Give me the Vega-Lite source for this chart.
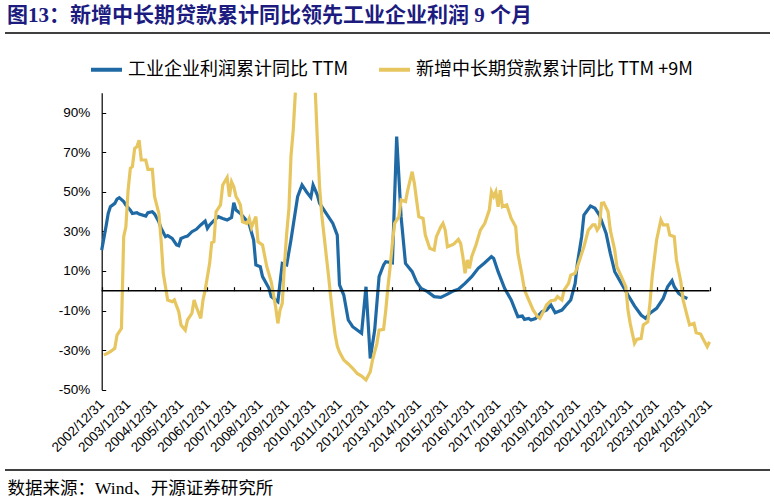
{
"$schema": "https://vega.github.io/schema/vega-lite/v6.json",
"width": 765,
"height": 437,
"autosize": {"type": "none"},
"padding": {"left": 5, "top": 33, "right": 4, "bottom": 31},
"title": {"text": "图13：新增中长期贷款累计同比领先工业企业利润 9 个月", "anchor": "start", "frame": "group", "font": "Liberation Serif, Noto Sans CJK SC", "fontSize": 21, "fontWeight": "bold", "color": "#1c1c80", "offset": 6, "dx": 2},
"config": {"view": {"stroke": null}, "font": "Liberation Sans", "axis": {"labelColor": "#000", "domainColor": "#000", "tickColor": "#000", "grid": false}},
"layer": [
 {
  "layer": [
   {
    "data": {"values": [
{"date":"2002-12-31","series":"工业企业利润累计同比 TTM","value":20.5},
{"date":"2003-02-28","series":"工业企业利润累计同比 TTM","value":32.3},
{"date":"2003-03-31","series":"工业企业利润累计同比 TTM","value":39},
{"date":"2003-04-30","series":"工业企业利润累计同比 TTM","value":42.4},
{"date":"2003-06-30","series":"工业企业利润累计同比 TTM","value":44.1},
{"date":"2003-07-31","series":"工业企业利润累计同比 TTM","value":46.3},
{"date":"2003-08-31","series":"工业企业利润累计同比 TTM","value":47},
{"date":"2003-10-31","series":"工业企业利润累计同比 TTM","value":45},
{"date":"2003-11-30","series":"工业企业利润累计同比 TTM","value":43.3},
{"date":"2004-01-31","series":"工业企业利润累计同比 TTM","value":40.7},
{"date":"2004-02-28","series":"工业企业利润累计同比 TTM","value":39},
{"date":"2004-04-30","series":"工业企业利润累计同比 TTM","value":39.4},
{"date":"2004-05-31","series":"工业企业利润累计同比 TTM","value":38.7},
{"date":"2004-08-31","series":"工业企业利润累计同比 TTM","value":37.7},
{"date":"2004-09-30","series":"工业企业利润累计同比 TTM","value":39.4},
{"date":"2004-11-30","series":"工业企业利润累计同比 TTM","value":39.9},
{"date":"2004-12-31","series":"工业企业利润累计同比 TTM","value":38.7},
{"date":"2005-02-28","series":"工业企业利润累计同比 TTM","value":34.8},
{"date":"2005-03-31","series":"工业企业利润累计同比 TTM","value":31.5},
{"date":"2005-05-31","series":"工业企业利润累计同比 TTM","value":27.3},
{"date":"2005-06-30","series":"工业企业利润累计同比 TTM","value":27.8},
{"date":"2005-08-31","series":"工业企业利润累计同比 TTM","value":26.4},
{"date":"2005-10-31","series":"工业企业利润累计同比 TTM","value":23.1},
{"date":"2005-11-30","series":"工业企业利润累计同比 TTM","value":22.7},
{"date":"2005-12-31","series":"工业企业利润累计同比 TTM","value":26.4},
{"date":"2006-02-28","series":"工业企业利润累计同比 TTM","value":27.3},
{"date":"2006-03-31","series":"工业企业利润累计同比 TTM","value":27.6},
{"date":"2006-05-31","series":"工业企业利润累计同比 TTM","value":29.8},
{"date":"2006-07-31","series":"工业企业利润累计同比 TTM","value":31},
{"date":"2006-09-30","series":"工业企业利润累计同比 TTM","value":33.2},
{"date":"2006-11-30","series":"工业企业利润累计同比 TTM","value":35.2},
{"date":"2006-12-31","series":"工业企业利润累计同比 TTM","value":31.5},
{"date":"2007-01-31","series":"工业企业利润累计同比 TTM","value":33.2},
{"date":"2007-03-31","series":"工业企业利润累计同比 TTM","value":35.4},
{"date":"2007-05-31","series":"工业企业利润累计同比 TTM","value":37.4},
{"date":"2007-07-31","series":"工业企业利润累计同比 TTM","value":36.5},
{"date":"2007-09-30","series":"工业企业利润累计同比 TTM","value":35.7},
{"date":"2007-11-30","series":"工业企业利润累计同比 TTM","value":37},
{"date":"2007-12-31","series":"工业企业利润累计同比 TTM","value":44.4},
{"date":"2008-01-31","series":"工业企业利润累计同比 TTM","value":40.7},
{"date":"2008-03-31","series":"工业企业利润累计同比 TTM","value":39},
{"date":"2008-05-31","series":"工业企业利润累计同比 TTM","value":36.5},
{"date":"2008-07-31","series":"工业企业利润累计同比 TTM","value":33.5},
{"date":"2008-09-30","series":"工业企业利润累计同比 TTM","value":25.6},
{"date":"2008-10-31","series":"工业企业利润累计同比 TTM","value":13},
{"date":"2008-12-31","series":"工业企业利润累计同比 TTM","value":12.1},
{"date":"2009-01-31","series":"工业企业利润累计同比 TTM","value":7.1},
{"date":"2009-04-30","series":"工业企业利润累计同比 TTM","value":1.2},
{"date":"2009-05-31","series":"工业企业利润累计同比 TTM","value":-3},
{"date":"2009-07-31","series":"工业企业利润累计同比 TTM","value":-4.7},
{"date":"2009-08-31","series":"工业企业利润累计同比 TTM","value":-5.6},
{"date":"2009-10-31","series":"工业企业利润累计同比 TTM","value":13.8},
{"date":"2009-12-31","series":"工业企业利润累计同比 TTM","value":13},
{"date":"2010-02-28","series":"工业企业利润累计同比 TTM","value":25.6},
{"date":"2010-05-31","series":"工业企业利润累计同比 TTM","value":47.5},
{"date":"2010-07-31","series":"工业企业利润累计同比 TTM","value":53.4},
{"date":"2010-09-30","series":"工业企业利润累计同比 TTM","value":50},
{"date":"2010-11-30","series":"工业企业利润累计同比 TTM","value":47.1},
{"date":"2010-12-31","series":"工业企业利润累计同比 TTM","value":53.4},
{"date":"2011-02-28","series":"工业企业利润累计同比 TTM","value":48.3},
{"date":"2011-03-31","series":"工业企业利润累计同比 TTM","value":44.1},
{"date":"2011-06-30","series":"工业企业利润累计同比 TTM","value":39},
{"date":"2011-09-30","series":"工业企业利润累计同比 TTM","value":34},
{"date":"2011-11-30","series":"工业企业利润累计同比 TTM","value":28.1},
{"date":"2011-12-31","series":"工业企业利润累计同比 TTM","value":2.9},
{"date":"2012-02-28","series":"工业企业利润累计同比 TTM","value":-2.2},
{"date":"2012-04-30","series":"工业企业利润累计同比 TTM","value":-14.8},
{"date":"2012-06-30","series":"工业企业利润累计同比 TTM","value":-18.2},
{"date":"2012-10-31","series":"工业企业利润累计同比 TTM","value":-21.5},
{"date":"2012-12-31","series":"工业企业利润累计同比 TTM","value":2},
{"date":"2013-02-28","series":"工业企业利润累计同比 TTM","value":-34.2},
{"date":"2013-04-30","series":"工业企业利润累计同比 TTM","value":-19.9},
{"date":"2013-06-30","series":"工业企业利润累计同比 TTM","value":7.1},
{"date":"2013-08-31","series":"工业企业利润累计同比 TTM","value":13},
{"date":"2013-09-30","series":"工业企业利润累计同比 TTM","value":14.6},
{"date":"2013-12-31","series":"工业企业利润累计同比 TTM","value":14.1},
{"date":"2014-02-28","series":"工业企业利润累计同比 TTM","value":77.8},
{"date":"2014-04-30","series":"工业企业利润累计同比 TTM","value":37.4},
{"date":"2014-06-30","series":"工业企业利润累计同比 TTM","value":13.8},
{"date":"2014-09-30","series":"工业企业利润累计同比 TTM","value":9.6},
{"date":"2014-11-30","series":"工业企业利润累计同比 TTM","value":4.5},
{"date":"2015-01-31","series":"工业企业利润累计同比 TTM","value":1.2},
{"date":"2015-04-30","series":"工业企业利润累计同比 TTM","value":-0.5},
{"date":"2015-07-31","series":"工业企业利润累计同比 TTM","value":-3},
{"date":"2015-10-31","series":"工业企业利润累计同比 TTM","value":-3.4},
{"date":"2016-01-31","series":"工业企业利润累计同比 TTM","value":-1.7},
{"date":"2016-04-30","series":"工业企业利润累计同比 TTM","value":0},
{"date":"2016-06-30","series":"工业企业利润累计同比 TTM","value":0.7},
{"date":"2016-09-30","series":"工业企业利润累计同比 TTM","value":3.7},
{"date":"2016-12-31","series":"工业企业利润累计同比 TTM","value":7.1},
{"date":"2017-03-31","series":"工业企业利润累计同比 TTM","value":11.3},
{"date":"2017-06-30","series":"工业企业利润累计同比 TTM","value":14.1},
{"date":"2017-09-30","series":"工业企业利润累计同比 TTM","value":17.2},
{"date":"2017-10-31","series":"工业企业利润累计同比 TTM","value":16.3},
{"date":"2017-12-31","series":"工业企业利润累计同比 TTM","value":9.6},
{"date":"2018-03-31","series":"工业企业利润累计同比 TTM","value":1.2},
{"date":"2018-06-30","series":"工业企业利润累计同比 TTM","value":-4.7},
{"date":"2018-09-30","series":"工业企业利润累计同比 TTM","value":-13.1},
{"date":"2018-11-30","series":"工业企业利润累计同比 TTM","value":-12.8},
{"date":"2018-12-31","series":"工业企业利润累计同比 TTM","value":-14.5},
{"date":"2019-02-28","series":"工业企业利润累计同比 TTM","value":-14},
{"date":"2019-03-31","series":"工业企业利润累计同比 TTM","value":-14.8},
{"date":"2019-05-31","series":"工业企业利润累计同比 TTM","value":-14.1},
{"date":"2019-08-31","series":"工业企业利润累计同比 TTM","value":-10.6},
{"date":"2019-10-31","series":"工业企业利润累计同比 TTM","value":-9.8},
{"date":"2019-12-31","series":"工业企业利润累计同比 TTM","value":-7.2},
{"date":"2020-02-28","series":"工业企业利润累计同比 TTM","value":-11.1},
{"date":"2020-05-31","series":"工业企业利润累计同比 TTM","value":-9.8},
{"date":"2020-07-31","series":"工业企业利润累计同比 TTM","value":-7.2},
{"date":"2020-09-30","series":"工业企业利润累计同比 TTM","value":-4.7},
{"date":"2020-11-30","series":"工业企业利润累计同比 TTM","value":3.7},
{"date":"2020-12-31","series":"工业企业利润累计同比 TTM","value":13.8},
{"date":"2021-02-28","series":"工业企业利润累计同比 TTM","value":27.3},
{"date":"2021-03-31","series":"工业企业利润累计同比 TTM","value":38.2},
{"date":"2021-06-30","series":"工业企业利润累计同比 TTM","value":42.8},
{"date":"2021-08-31","series":"工业企业利润累计同比 TTM","value":41.6},
{"date":"2021-10-31","series":"工业企业利润累计同比 TTM","value":38.2},
{"date":"2022-01-31","series":"工业企业利润累计同比 TTM","value":29},
{"date":"2022-03-31","series":"工业企业利润累计同比 TTM","value":18.9},
{"date":"2022-05-31","series":"工业企业利润累计同比 TTM","value":9.6},
{"date":"2022-08-31","series":"工业企业利润累计同比 TTM","value":3.7},
{"date":"2022-11-30","series":"工业企业利润累计同比 TTM","value":-2.2},
{"date":"2023-02-28","series":"工业企业利润累计同比 TTM","value":-7.7},
{"date":"2023-05-31","series":"工业企业利润累计同比 TTM","value":-12.3},
{"date":"2023-07-31","series":"工业企业利润累计同比 TTM","value":-14},
{"date":"2023-09-30","series":"工业企业利润累计同比 TTM","value":-11.4},
{"date":"2023-12-31","series":"工业企业利润累计同比 TTM","value":-8.9},
{"date":"2024-03-31","series":"工业企业利润累计同比 TTM","value":-3.9},
{"date":"2024-05-31","series":"工业企业利润累计同比 TTM","value":2},
{"date":"2024-07-31","series":"工业企业利润累计同比 TTM","value":5.1},
{"date":"2024-08-31","series":"工业企业利润累计同比 TTM","value":2},
{"date":"2024-10-31","series":"工业企业利润累计同比 TTM","value":-1.3},
{"date":"2024-12-31","series":"工业企业利润累计同比 TTM","value":-3},
{"date":"2025-02-28","series":"工业企业利润累计同比 TTM","value":-3.9},
{"date":"2003-01-31","series":"新增中长期贷款累计同比 TTM +9M","value":-32.5},
{"date":"2003-04-30","series":"新增中长期贷款累计同比 TTM +9M","value":-30.8},
{"date":"2003-06-30","series":"新增中长期贷款累计同比 TTM +9M","value":-29.1},
{"date":"2003-07-31","series":"新增中长期贷款累计同比 TTM +9M","value":-22.4},
{"date":"2003-09-30","series":"新增中长期贷款累计同比 TTM +9M","value":-19},
{"date":"2003-10-31","series":"新增中长期贷款累计同比 TTM +9M","value":27.3},
{"date":"2003-11-30","series":"新增中长期贷款累计同比 TTM +9M","value":32.3},
{"date":"2003-12-31","series":"新增中长期贷款累计同比 TTM +9M","value":50.8},
{"date":"2004-01-31","series":"新增中长期贷款累计同比 TTM +9M","value":61.8},
{"date":"2004-02-28","series":"新增中长期贷款累计同比 TTM +9M","value":62.6},
{"date":"2004-03-31","series":"新增中长期贷款累计同比 TTM +9M","value":71.9},
{"date":"2004-04-30","series":"新增中长期贷款累计同比 TTM +9M","value":72.7},
{"date":"2004-05-31","series":"新增中长期贷款累计同比 TTM +9M","value":76},
{"date":"2004-06-30","series":"新增中长期贷款累计同比 TTM +9M","value":66},
{"date":"2004-08-31","series":"新增中长期贷款累计同比 TTM +9M","value":66},
{"date":"2004-09-30","series":"新增中长期贷款累计同比 TTM +9M","value":61.3},
{"date":"2004-11-30","series":"新增中长期贷款累计同比 TTM +9M","value":61.3},
{"date":"2004-12-31","series":"新增中长期贷款累计同比 TTM +9M","value":47.5},
{"date":"2005-02-28","series":"新增中长期贷款累计同比 TTM +9M","value":39},
{"date":"2005-03-31","series":"新增中长期贷款累计同比 TTM +9M","value":25.6},
{"date":"2005-04-30","series":"新增中长期贷款累计同比 TTM +9M","value":8.8},
{"date":"2005-06-30","series":"新增中长期贷款累计同比 TTM +9M","value":-4.7},
{"date":"2005-08-31","series":"新增中长期贷款累计同比 TTM +9M","value":-5.6},
{"date":"2005-09-30","series":"新增中长期贷款累计同比 TTM +9M","value":-4.7},
{"date":"2005-11-30","series":"新增中长期贷款累计同比 TTM +9M","value":-10.6},
{"date":"2005-12-31","series":"新增中长期贷款累计同比 TTM +9M","value":-17.3},
{"date":"2006-02-28","series":"新增中长期贷款累计同比 TTM +9M","value":-19.9},
{"date":"2006-03-31","series":"新增中长期贷款累计同比 TTM +9M","value":-14.8},
{"date":"2006-05-31","series":"新增中长期贷款累计同比 TTM +9M","value":-11.4},
{"date":"2006-06-30","series":"新增中长期贷款累计同比 TTM +9M","value":-4.7},
{"date":"2006-07-31","series":"新增中长期贷款累计同比 TTM +9M","value":-8.1},
{"date":"2006-09-30","series":"新增中长期贷款累计同比 TTM +9M","value":-14},
{"date":"2006-10-31","series":"新增中长期贷款累计同比 TTM +9M","value":-4.7},
{"date":"2006-11-30","series":"新增中长期贷款累计同比 TTM +9M","value":0.3},
{"date":"2007-01-31","series":"新增中长期贷款累计同比 TTM +9M","value":13.8},
{"date":"2007-02-28","series":"新增中长期贷款累计同比 TTM +9M","value":24.2},
{"date":"2007-03-31","series":"新增中长期贷款累计同比 TTM +9M","value":24.7},
{"date":"2007-04-30","series":"新增中长期贷款累计同比 TTM +9M","value":39.9},
{"date":"2007-06-30","series":"新增中长期贷款累计同比 TTM +9M","value":43.3},
{"date":"2007-07-31","series":"新增中长期贷款累计同比 TTM +9M","value":53.4},
{"date":"2007-09-30","series":"新增中长期贷款累计同比 TTM +9M","value":57.2},
{"date":"2007-10-31","series":"新增中长期贷款累计同比 TTM +9M","value":47.5},
{"date":"2007-11-30","series":"新增中长期贷款累计同比 TTM +9M","value":55},
{"date":"2007-12-31","series":"新增中长期贷款累计同比 TTM +9M","value":52.5},
{"date":"2008-01-31","series":"新增中长期贷款累计同比 TTM +9M","value":47.5},
{"date":"2008-02-28","series":"新增中长期贷款累计同比 TTM +9M","value":45.8},
{"date":"2008-03-31","series":"新增中长期贷款累计同比 TTM +9M","value":43.3},
{"date":"2008-04-30","series":"新增中长期贷款累计同比 TTM +9M","value":34.8},
{"date":"2008-06-30","series":"新增中长期贷款累计同比 TTM +9M","value":34},
{"date":"2008-07-31","series":"新增中长期贷款累计同比 TTM +9M","value":36.5},
{"date":"2008-08-31","series":"新增中长期贷款累计同比 TTM +9M","value":32},
{"date":"2008-10-31","series":"新增中长期贷款累计同比 TTM +9M","value":37.4},
{"date":"2008-11-30","series":"新增中长期贷款累计同比 TTM +9M","value":24.7},
{"date":"2009-01-31","series":"新增中长期贷款累计同比 TTM +9M","value":23.1},
{"date":"2009-03-31","series":"新增中长期贷款累计同比 TTM +9M","value":12.1},
{"date":"2009-05-31","series":"新增中长期贷款累计同比 TTM +9M","value":4.5},
{"date":"2009-07-31","series":"新增中长期贷款累计同比 TTM +9M","value":-8.1},
{"date":"2009-08-31","series":"新增中长期贷款累计同比 TTM +9M","value":-16.5},
{"date":"2009-09-30","series":"新增中长期贷款累计同比 TTM +9M","value":-9.8},
{"date":"2009-10-31","series":"新增中长期贷款累计同比 TTM +9M","value":-6.4},
{"date":"2009-11-30","series":"新增中长期贷款累计同比 TTM +9M","value":13},
{"date":"2009-12-31","series":"新增中长期贷款累计同比 TTM +9M","value":29},
{"date":"2010-01-31","series":"新增中长期贷款累计同比 TTM +9M","value":41.6},
{"date":"2010-02-28","series":"新增中长期贷款累计同比 TTM +9M","value":67.7},
{"date":"2010-03-31","series":"新增中长期贷款累计同比 TTM +9M","value":81},
{"date":"2010-04-30","series":"新增中长期贷款累计同比 TTM +9M","value":100},
{"date":"2010-08-31","series":"新增中长期贷款累计同比 TTM +9M","value":null},
{"date":"2011-01-31","series":"新增中长期贷款累计同比 TTM +9M","value":100},
{"date":"2011-02-28","series":"新增中长期贷款累计同比 TTM +9M","value":76},
{"date":"2011-03-31","series":"新增中长期贷款累计同比 TTM +9M","value":52},
{"date":"2011-04-30","series":"新增中长期贷款累计同比 TTM +9M","value":38},
{"date":"2011-05-31","series":"新增中长期贷款累计同比 TTM +9M","value":28},
{"date":"2011-06-30","series":"新增中长期贷款累计同比 TTM +9M","value":18},
{"date":"2011-07-31","series":"新增中长期贷款累计同比 TTM +9M","value":8},
{"date":"2011-08-31","series":"新增中长期贷款累计同比 TTM +9M","value":-3},
{"date":"2011-09-30","series":"新增中长期贷款累计同比 TTM +9M","value":-13},
{"date":"2011-10-31","series":"新增中长期贷款累计同比 TTM +9M","value":-22},
{"date":"2011-11-30","series":"新增中长期贷款累计同比 TTM +9M","value":-28},
{"date":"2011-12-31","series":"新增中长期贷款累计同比 TTM +9M","value":-31},
{"date":"2012-02-28","series":"新增中长期贷款累计同比 TTM +9M","value":-35},
{"date":"2012-04-30","series":"新增中长期贷款累计同比 TTM +9M","value":-37},
{"date":"2012-06-30","series":"新增中长期贷款累计同比 TTM +9M","value":-39.2},
{"date":"2012-08-31","series":"新增中长期贷款累计同比 TTM +9M","value":-41.8},
{"date":"2012-10-31","series":"新增中长期贷款累计同比 TTM +9M","value":-43.1},
{"date":"2012-12-31","series":"新增中长期贷款累计同比 TTM +9M","value":-45.1},
{"date":"2013-02-28","series":"新增中长期贷款累计同比 TTM +9M","value":-40.9},
{"date":"2013-03-31","series":"新增中长期贷款累计同比 TTM +9M","value":-35},
{"date":"2013-05-31","series":"新增中长期贷款累计同比 TTM +9M","value":-26.6},
{"date":"2013-06-30","series":"新增中长期贷款累计同比 TTM +9M","value":-19.9},
{"date":"2013-08-31","series":"新增中长期贷款累计同比 TTM +9M","value":-19.5},
{"date":"2013-09-30","series":"新增中长期贷款累计同比 TTM +9M","value":-10},
{"date":"2013-10-31","series":"新增中长期贷款累计同比 TTM +9M","value":2},
{"date":"2013-11-30","series":"新增中长期贷款累计同比 TTM +9M","value":12},
{"date":"2013-12-31","series":"新增中长期贷款累计同比 TTM +9M","value":24},
{"date":"2014-01-31","series":"新增中长期贷款累计同比 TTM +9M","value":34},
{"date":"2014-03-31","series":"新增中长期贷款累计同比 TTM +9M","value":37.4},
{"date":"2014-04-30","series":"新增中长期贷款累计同比 TTM +9M","value":45.8},
{"date":"2014-06-30","series":"新增中长期贷款累计同比 TTM +9M","value":45},
{"date":"2014-07-31","series":"新增中长期贷款累计同比 TTM +9M","value":50.8},
{"date":"2014-09-30","series":"新增中长期贷款累计同比 TTM +9M","value":60.1},
{"date":"2014-10-31","series":"新增中长期贷款累计同比 TTM +9M","value":54.2},
{"date":"2014-11-30","series":"新增中长期贷款累计同比 TTM +9M","value":45.8},
{"date":"2014-12-31","series":"新增中长期贷款累计同比 TTM +9M","value":37.4},
{"date":"2015-02-28","series":"新增中长期贷款累计同比 TTM +9M","value":36.5},
{"date":"2015-03-31","series":"新增中长期贷款累计同比 TTM +9M","value":28.1},
{"date":"2015-05-31","series":"新增中长期贷款累计同比 TTM +9M","value":21.4},
{"date":"2015-07-31","series":"新增中长期贷款累计同比 TTM +9M","value":20.5},
{"date":"2015-08-31","series":"新增中长期贷款累计同比 TTM +9M","value":27.3},
{"date":"2015-10-31","series":"新增中长期贷款累计同比 TTM +9M","value":32.3},
{"date":"2015-11-30","series":"新增中长期贷款累计同比 TTM +9M","value":34},
{"date":"2015-12-31","series":"新增中长期贷款累计同比 TTM +9M","value":30.6},
{"date":"2016-01-31","series":"新增中长期贷款累计同比 TTM +9M","value":22.2},
{"date":"2016-03-31","series":"新增中长期贷款累计同比 TTM +9M","value":23.1},
{"date":"2016-04-30","series":"新增中长期贷款累计同比 TTM +9M","value":23.6},
{"date":"2016-06-30","series":"新增中长期贷款累计同比 TTM +9M","value":25.9},
{"date":"2016-07-31","series":"新增中长期贷款累计同比 TTM +9M","value":23.9},
{"date":"2016-08-31","series":"新增中长期贷款累计同比 TTM +9M","value":17.2},
{"date":"2016-09-30","series":"新增中长期贷款累计同比 TTM +9M","value":8.8},
{"date":"2016-10-31","series":"新增中长期贷款累计同比 TTM +9M","value":15.5},
{"date":"2016-11-30","series":"新增中长期贷款累计同比 TTM +9M","value":11.3},
{"date":"2016-12-31","series":"新增中长期贷款累计同比 TTM +9M","value":17.2},
{"date":"2017-02-28","series":"新增中长期贷款累计同比 TTM +9M","value":23.1},
{"date":"2017-04-30","series":"新增中长期贷款累计同比 TTM +9M","value":30.6},
{"date":"2017-06-30","series":"新增中长期贷款累计同比 TTM +9M","value":34},
{"date":"2017-08-31","series":"新增中长期贷款累计同比 TTM +9M","value":40.7},
{"date":"2017-09-30","series":"新增中长期贷款累计同比 TTM +9M","value":50},
{"date":"2017-10-31","series":"新增中长期贷款累计同比 TTM +9M","value":47.5},
{"date":"2017-11-30","series":"新增中长期贷款累计同比 TTM +9M","value":50},
{"date":"2017-12-31","series":"新增中长期贷款累计同比 TTM +9M","value":42.4},
{"date":"2018-01-31","series":"新增中长期贷款累计同比 TTM +9M","value":50.8},
{"date":"2018-02-28","series":"新增中长期贷款累计同比 TTM +9M","value":42.4},
{"date":"2018-04-30","series":"新增中长期贷款累计同比 TTM +9M","value":43.3},
{"date":"2018-06-30","series":"新增中长期贷款累计同比 TTM +9M","value":36.5},
{"date":"2018-08-31","series":"新增中长期贷款累计同比 TTM +9M","value":32.3},
{"date":"2018-09-30","series":"新增中长期贷款累计同比 TTM +9M","value":18.9},
{"date":"2018-11-30","series":"新增中长期贷款累计同比 TTM +9M","value":7.1},
{"date":"2018-12-31","series":"新增中长期贷款累计同比 TTM +9M","value":0.3},
{"date":"2019-02-28","series":"新增中长期贷款累计同比 TTM +9M","value":-4.7},
{"date":"2019-04-30","series":"新增中长期贷款累计同比 TTM +9M","value":-9.8},
{"date":"2019-06-30","series":"新增中长期贷款累计同比 TTM +9M","value":-13.1},
{"date":"2019-07-31","series":"新增中长期贷款累计同比 TTM +9M","value":-14},
{"date":"2019-09-30","series":"新增中长期贷款累计同比 TTM +9M","value":-9.8},
{"date":"2019-10-31","series":"新增中长期贷款累计同比 TTM +9M","value":-7.2},
{"date":"2019-12-31","series":"新增中长期贷款累计同比 TTM +9M","value":-5.1},
{"date":"2020-02-28","series":"新增中长期贷款累计同比 TTM +9M","value":-4.7},
{"date":"2020-03-31","series":"新增中长期贷款累计同比 TTM +9M","value":-3},
{"date":"2020-05-31","series":"新增中长期贷款累计同比 TTM +9M","value":-4.7},
{"date":"2020-06-30","series":"新增中长期贷款累计同比 TTM +9M","value":0.3},
{"date":"2020-08-31","series":"新增中长期贷款累计同比 TTM +9M","value":3.7},
{"date":"2020-09-30","series":"新增中长期贷款累计同比 TTM +9M","value":7.9},
{"date":"2020-11-30","series":"新增中长期贷款累计同比 TTM +9M","value":8.8},
{"date":"2021-01-31","series":"新增中长期贷款累计同比 TTM +9M","value":15.5},
{"date":"2021-03-31","series":"新增中长期贷款累计同比 TTM +9M","value":22.2},
{"date":"2021-05-31","series":"新增中长期贷款累计同比 TTM +9M","value":30.6},
{"date":"2021-07-31","series":"新增中长期贷款累计同比 TTM +9M","value":33.2},
{"date":"2021-08-31","series":"新增中长期贷款累计同比 TTM +9M","value":33.2},
{"date":"2021-09-30","series":"新增中长期贷款累计同比 TTM +9M","value":30.6},
{"date":"2021-10-31","series":"新增中长期贷款累计同比 TTM +9M","value":32.3},
{"date":"2021-11-30","series":"新增中长期贷款累计同比 TTM +9M","value":44.1},
{"date":"2021-12-31","series":"新增中长期贷款累计同比 TTM +9M","value":44.4},
{"date":"2022-02-28","series":"新增中长期贷款累计同比 TTM +9M","value":39.9},
{"date":"2022-03-31","series":"新增中长期贷款累计同比 TTM +9M","value":30.6},
{"date":"2022-05-31","series":"新增中长期贷款累计同比 TTM +9M","value":20.5},
{"date":"2022-06-30","series":"新增中长期贷款累计同比 TTM +9M","value":12.1},
{"date":"2022-08-31","series":"新增中长期贷款累计同比 TTM +9M","value":7.1},
{"date":"2022-10-31","series":"新增中长期贷款累计同比 TTM +9M","value":2},
{"date":"2022-11-30","series":"新增中长期贷款累计同比 TTM +9M","value":-9.8},
{"date":"2022-12-31","series":"新增中长期贷款累计同比 TTM +9M","value":-16.5},
{"date":"2023-02-28","series":"新增中长期贷款累计同比 TTM +9M","value":-26.6},
{"date":"2023-03-31","series":"新增中长期贷款累计同比 TTM +9M","value":-24.6},
{"date":"2023-05-31","series":"新增中长期贷款累计同比 TTM +9M","value":-24.1},
{"date":"2023-06-30","series":"新增中长期贷款累计同比 TTM +9M","value":-17.3},
{"date":"2023-08-31","series":"新增中长期贷款累计同比 TTM +9M","value":-15.7},
{"date":"2023-09-30","series":"新增中长期贷款累计同比 TTM +9M","value":-6.4},
{"date":"2023-10-31","series":"新增中长期贷款累计同比 TTM +9M","value":7.1},
{"date":"2023-12-31","series":"新增中长期贷款累计同比 TTM +9M","value":25.6},
{"date":"2024-02-28","series":"新增中长期贷款累计同比 TTM +9M","value":35.7},
{"date":"2024-03-31","series":"新增中长期贷款累计同比 TTM +9M","value":33.2},
{"date":"2024-05-31","series":"新增中长期贷款累计同比 TTM +9M","value":33.2},
{"date":"2024-06-30","series":"新增中长期贷款累计同比 TTM +9M","value":28.1},
{"date":"2024-08-31","series":"新增中长期贷款累计同比 TTM +9M","value":27.3},
{"date":"2024-09-30","series":"新增中长期贷款累计同比 TTM +9M","value":15.5},
{"date":"2024-11-30","series":"新增中长期贷款累计同比 TTM +9M","value":4.5},
{"date":"2024-12-31","series":"新增中长期贷款累计同比 TTM +9M","value":-4.7},
{"date":"2025-02-28","series":"新增中长期贷款累计同比 TTM +9M","value":-13.1},
{"date":"2025-03-31","series":"新增中长期贷款累计同比 TTM +9M","value":-17.3},
{"date":"2025-05-31","series":"新增中长期贷款累计同比 TTM +9M","value":-16.5},
{"date":"2025-06-30","series":"新增中长期贷款累计同比 TTM +9M","value":-21.2},
{"date":"2025-08-31","series":"新增中长期贷款累计同比 TTM +9M","value":-21.9},
{"date":"2025-09-30","series":"新增中长期贷款累计同比 TTM +9M","value":-24.1},
{"date":"2025-11-30","series":"新增中长期贷款累计同比 TTM +9M","value":-28.3},
{"date":"2025-12-31","series":"新增中长期贷款累计同比 TTM +9M","value":-25.8}
    ]},
    "mark": {"type": "line", "strokeWidth": 3.2, "invalid": "break-paths-filter-domains"},
    "encoding": {
     "x": {"field": "date", "type": "temporal",
      "scale": {"type": "utc", "domain": [{"year":2002,"month":12,"date":31,"utc":true},{"year":2025,"month":12,"date":31,"utc":true}], "range": [96.7, 704.5]},
      "axis": {"orient": "bottom", "offset": -80.3, "domain": false, "ticks": false, "tickSize": 0, "format": "%Y/%m/%d", "labelAngle": -45, "labelAlign": "right", "labelBaseline": "middle", "labelPadding": 12, "labelFontSize": 13.5, "labelFont": "Liberation Sans", "labelOverlap": false, "labelFlush": false, "labelBound": false,
       "values": [{"year":2002,"month":12,"date":31,"utc":true},{"year":2003,"month":12,"date":31,"utc":true},{"year":2004,"month":12,"date":31,"utc":true},{"year":2005,"month":12,"date":31,"utc":true},{"year":2006,"month":12,"date":31,"utc":true},{"year":2007,"month":12,"date":31,"utc":true},{"year":2008,"month":12,"date":31,"utc":true},{"year":2009,"month":12,"date":31,"utc":true},{"year":2010,"month":12,"date":31,"utc":true},{"year":2011,"month":12,"date":31,"utc":true},{"year":2012,"month":12,"date":31,"utc":true},{"year":2013,"month":12,"date":31,"utc":true},{"year":2014,"month":12,"date":31,"utc":true},{"year":2015,"month":12,"date":31,"utc":true},{"year":2016,"month":12,"date":31,"utc":true},{"year":2017,"month":12,"date":31,"utc":true},{"year":2018,"month":12,"date":31,"utc":true},{"year":2019,"month":12,"date":31,"utc":true},{"year":2020,"month":12,"date":31,"utc":true},{"year":2021,"month":12,"date":31,"utc":true},{"year":2022,"month":12,"date":31,"utc":true},{"year":2023,"month":12,"date":31,"utc":true},{"year":2024,"month":12,"date":31,"utc":true},{"year":2025,"month":12,"date":31,"utc":true}],
       "title": "数据来源：Wind、开源证券研究所", "titleX": 2, "titleY": 103.5, "titleAlign": "left", "titleAnchor": "start", "titleBaseline": "alphabetic", "titleFont": "Liberation Serif, Noto Sans CJK SC", "titleFontSize": 17.5, "titleFontWeight": "normal", "titleColor": "#000", "titlePadding": 0}},
     "y": {"field": "value", "type": "quantitative",
      "scale": {"domain": [-50, 100], "range": [356.7, 59.7], "nice": false, "zero": false},
      "axis": {"orient": "left", "offset": -96.7, "values": [-50,-30,-10,10,30,50,70,90], "labelExpr": "datum.value + '%'", "tickSize": -4, "labelPadding": 16, "labelFontSize": 13.5, "labelFont": "Liberation Sans", "title": null, "domainWidth": 1.2}},
     "color": {"field": "series", "type": "nominal",
      "scale": {"domain": ["工业企业利润累计同比 TTM", "新增中长期贷款累计同比 TTM +9M"], "range": ["#1f6aa5", "#e7c660"]},
      "legend": {"orient": "none", "legendX": 84, "legendY": 19, "direction": "horizontal", "title": null, "symbolType": "stroke", "symbolSize": 961, "symbolStrokeWidth": 4, "labelFontSize": 18, "labelFont": "Noto Sans CJK SC", "labelColor": "#000", "labelOffset": 4, "columnPadding": 22, "labelLimit": 400, "padding": 0}}
    }
   },
   {
    "data": {"values": [{}]},
    "mark": {"type": "rule", "color": "#000", "strokeWidth": 1.5},
    "encoding": {
     "x": {"datum": {"year":2002,"month":12,"date":31,"utc":true}, "type": "temporal",
      "scale": {"type": "utc", "domain": [{"year":2002,"month":12,"date":31,"utc":true},{"year":2025,"month":12,"date":31,"utc":true}], "range": [96.7, 704.5]},
      "axis": {"orient": "top", "offset": -257.7, "labels": false, "domain": false, "ticks": true, "tickSize": 4, "tickWidth": 1.2, "title": null,
       "values": [{"year":2002,"month":12,"date":31,"utc":true},{"year":2003,"month":12,"date":31,"utc":true},{"year":2004,"month":12,"date":31,"utc":true},{"year":2005,"month":12,"date":31,"utc":true},{"year":2006,"month":12,"date":31,"utc":true},{"year":2007,"month":12,"date":31,"utc":true},{"year":2008,"month":12,"date":31,"utc":true},{"year":2009,"month":12,"date":31,"utc":true},{"year":2010,"month":12,"date":31,"utc":true},{"year":2011,"month":12,"date":31,"utc":true},{"year":2012,"month":12,"date":31,"utc":true},{"year":2013,"month":12,"date":31,"utc":true},{"year":2014,"month":12,"date":31,"utc":true},{"year":2015,"month":12,"date":31,"utc":true},{"year":2016,"month":12,"date":31,"utc":true},{"year":2017,"month":12,"date":31,"utc":true},{"year":2018,"month":12,"date":31,"utc":true},{"year":2019,"month":12,"date":31,"utc":true},{"year":2020,"month":12,"date":31,"utc":true},{"year":2021,"month":12,"date":31,"utc":true},{"year":2022,"month":12,"date":31,"utc":true},{"year":2023,"month":12,"date":31,"utc":true},{"year":2024,"month":12,"date":31,"utc":true},{"year":2025,"month":12,"date":31,"utc":true}]}},
     "x2": {"datum": {"year":2025,"month":12,"date":31,"utc":true}},
     "y": {"datum": 0, "type": "quantitative"}
    }
   }
  ],
  "resolve": {"scale": {"x": "independent"}, "axis": {"x": "independent"}}
 },
 {
  "data": {"values": [{"edge": 0}, {"edge": 1}]},
  "mark": {"type": "rule", "color": "#000", "strokeWidth": 1.3},
  "encoding": {
   "y": {"field": "edge", "type": "quantitative", "scale": {"domain": [0, 1], "nice": false, "zero": false}, "axis": null}
  }
 }
],
"resolve": {"scale": {"x": "independent", "y": "independent"}, "axis": {"x": "independent", "y": "independent"}}
}
